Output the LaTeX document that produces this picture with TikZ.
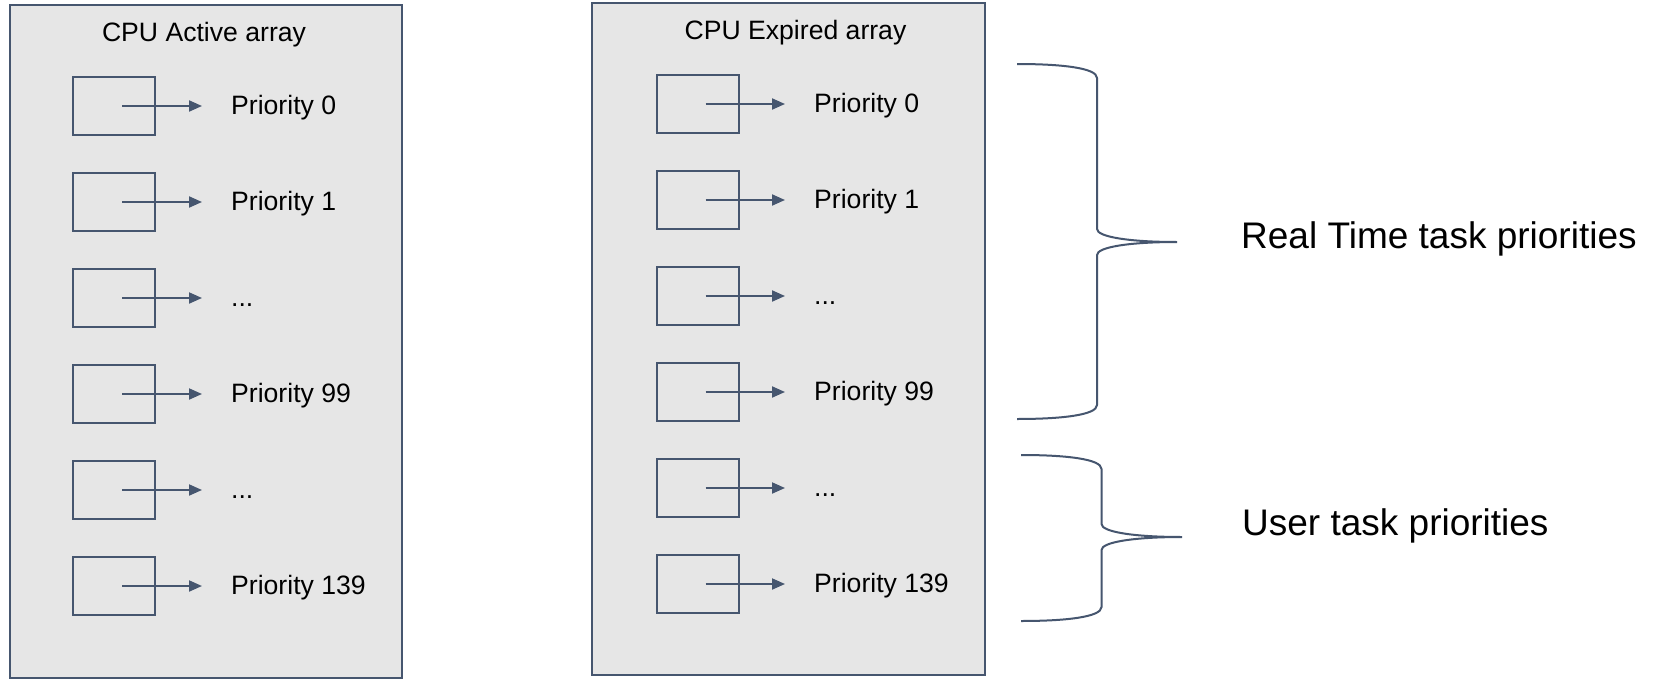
\documentclass[tikz,border=0pt]{standalone}
\usepackage{fontspec}
\setmainfont{Liberation Sans}
\usetikzlibrary{arrows.meta}

\definecolor{strokecol}{HTML}{46566F}
\definecolor{panelfill}{HTML}{E6E6E6}

\tikzset{
  panel/.style={draw=strokecol, fill=panelfill, line width=2pt, inner sep=0pt},
  slot/.style={draw=strokecol, line width=2pt, minimum width=82pt, minimum height=58pt, inner sep=0pt},
  ptr/.style={draw=strokecol, line width=2pt, -{Triangle[length=13pt,width=11pt]}, shorten >=29pt},
  rowlabel/.style={anchor=base west, inner sep=0pt, font=\fontsize{26.6}{30}\selectfont},
  paneltitle/.style={anchor=base, inner sep=0pt, font=\fontsize{26.6}{30}\selectfont},
  groupbrace/.style={draw=strokecol, line width=2pt},
  grouplabel/.style={anchor=base west, inner sep=0pt, font=\fontsize{37}{42}\selectfont},
}

% elided priority levels
\newcommand\skipped{...}

% curly brace: #1 end x, #2 spine x, #3 tip x, #4 top y, #5 tip y, #6 bottom y
\newcommand\groupcurl[6]{%
  \draw[groupbrace] (#1,#4) .. controls ({#1+45},#4) and (#2,{#4+4}) .. (#2,{#4+14})
    -- (#2,{#5-13}) .. controls (#2,{#5-5}) and ({#2+33},#5) .. (#3,#5)
    .. controls ({#2+33},#5) and (#2,{#5+5}) .. (#2,{#5+13})
    -- (#2,{#6-14}) .. controls (#2,{#6-4}) and ({#1+45},#6) .. (#1,#6);
}

\begin{document}
\begin{tikzpicture}[x=1pt, y=-1pt]
  \useasboundingbox[fill=white] (0,0) rectangle (1655,680);

  % the two priority arrays
  \node[panel, minimum width=392.5pt, minimum height=673pt] (active) at (205.75,341.5) {};
  \node[panel, minimum width=393pt, minimum height=672pt] (expired) at (788.5,339) {};

  \node[paneltitle] (activetitle) at (204,41) {CPU Active array};
  \node[paneltitle] (expiredtitle) at (795.5,39.5) {CPU Expired array};

  % one slot per priority level, each pointing at its task list
  \foreach \i/\txt in {0/Priority 0, 1/Priority 1, 2/\skipped, 3/Priority 99, 4/\skipped, 5/Priority 139} {
    \pgfmathsetmacro{\ya}{106+96*\i}
    \pgfmathsetmacro{\yb}{104+96*\i}
    \node[slot] (a\i) at (114,\ya) {};
    \node[rowlabel] (la\i) at (231,\ya+8) {\txt};
    \draw[ptr] ([xshift=8pt]a\i.center) -- (a\i.center -| la\i.west);
    \node[slot] (e\i) at (697.5,\yb) {};
    \node[rowlabel] (le\i) at (814,\yb+8) {\txt};
    \draw[ptr] ([xshift=8pt]e\i.center) -- (e\i.center -| le\i.west);
  }

  % priority ranges
  \groupcurl{1017}{1097}{1177}{64}{242}{419}
  \groupcurl{1021}{1101.5}{1182}{455}{537}{621}

  \node[grouplabel] (rt) at (1241,248) {Real Time task priorities};
  \node[grouplabel] (user) at (1242,535) {User task priorities};
\end{tikzpicture}
\end{document}
